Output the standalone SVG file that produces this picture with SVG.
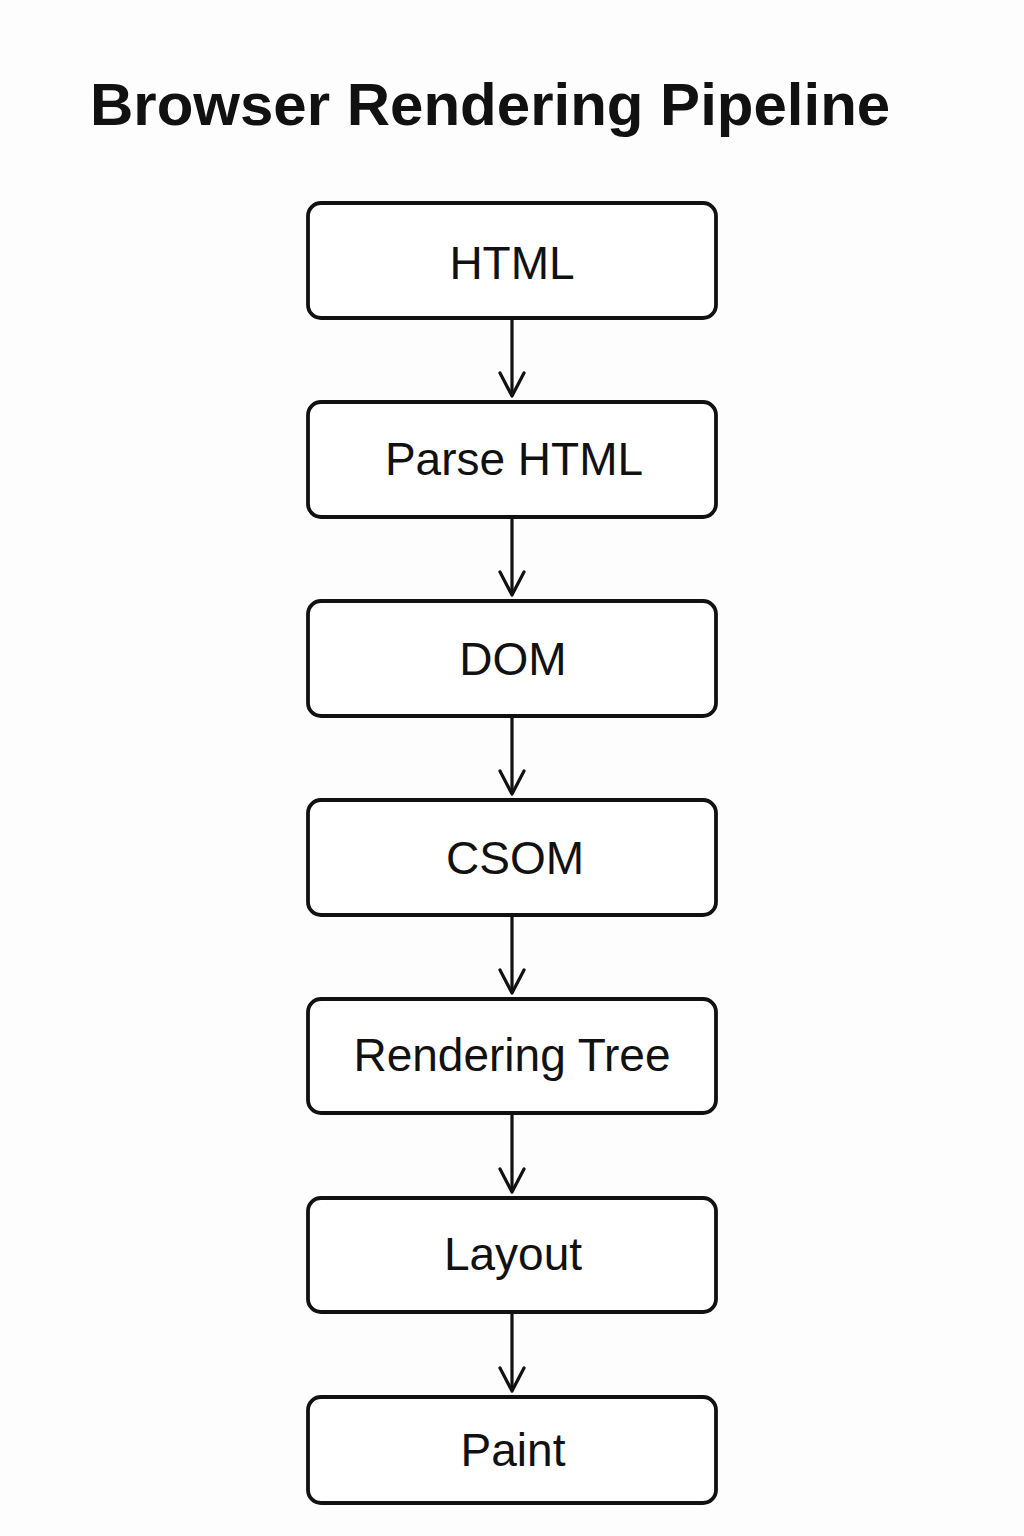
<svg xmlns="http://www.w3.org/2000/svg" width="1024" height="1536" viewBox="0 0 1024 1536">
<style>
.box{fill:#ffffff;stroke:#111;stroke-width:3.8}
.lbl{font-family:"Liberation Sans",Arial,sans-serif;font-size:46px;fill:#111;text-anchor:middle}
.title{font-family:"Liberation Sans",Arial,sans-serif;font-size:60px;font-weight:bold;fill:#111}
.conn{stroke:#111;stroke-width:3.2;fill:none}
.head{stroke:#111;stroke-width:3.2;fill:none;stroke-linecap:round;stroke-linejoin:round}
</style>
<rect width="1024" height="1536" fill="#fdfdfd"/>
<text class="title" x="90" y="125">Browser Rendering Pipeline</text>
<g id="node-html"><rect class="box" x="308" y="203" width="408" height="115" rx="13"/><text class="lbl" x="512" y="279">HTML</text></g>
<g id="node-parse"><rect class="box" x="308" y="402" width="408" height="115" rx="13"/><text class="lbl" x="514" y="475">Parse HTML</text></g>
<g id="node-dom"><rect class="box" x="308" y="601" width="408" height="115" rx="13"/><text class="lbl" x="513" y="675">DOM</text></g>
<g id="node-csom"><rect class="box" x="308" y="800" width="408" height="115" rx="13"/><text class="lbl" x="515" y="874">CSOM</text></g>
<g id="node-rtree"><rect class="box" x="308" y="999" width="408" height="114" rx="13"/><text class="lbl" x="512" y="1071">Rendering Tree</text></g>
<g id="node-layout"><rect class="box" x="308" y="1198" width="408" height="114" rx="13"/><text class="lbl" x="513" y="1270">Layout</text></g>
<g id="node-paint"><rect class="box" x="308" y="1397" width="408" height="106" rx="13"/><text class="lbl" x="513" y="1466">Paint</text></g>
<g id="connectors">
<line class="conn" x1="512" y1="318" x2="512" y2="396"/><polyline class="head" points="500,373 512,396 524,373"/>
<line class="conn" x1="512" y1="517" x2="512" y2="595"/><polyline class="head" points="500,572 512,595 524,572"/>
<line class="conn" x1="512" y1="716" x2="512" y2="794"/><polyline class="head" points="500,771 512,794 524,771"/>
<line class="conn" x1="512" y1="915" x2="512" y2="993"/><polyline class="head" points="500,970 512,993 524,970"/>
<line class="conn" x1="512" y1="1113" x2="512" y2="1192"/><polyline class="head" points="500,1169 512,1192 524,1169"/>
<line class="conn" x1="512" y1="1312" x2="512" y2="1391"/><polyline class="head" points="500,1368 512,1391 524,1368"/>
</g>
</svg>
